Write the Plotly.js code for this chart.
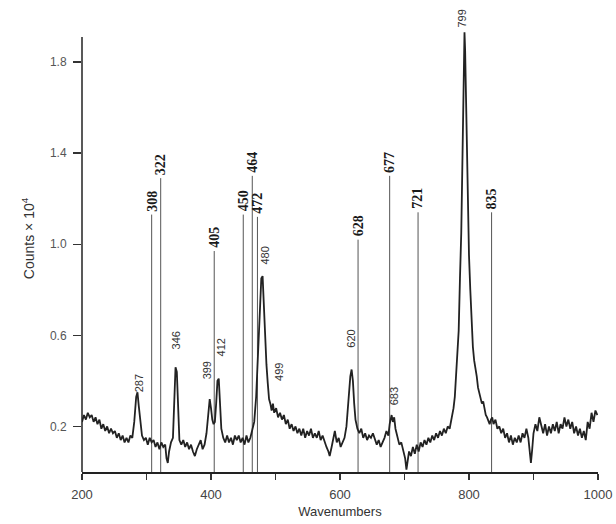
<!DOCTYPE html>
<html>
<head>
<meta charset="utf-8">
<script src="https://cdn.plot.ly/plotly-3.0.1.min.js"></script>
<style>html,body{margin:0;padding:0;background:#fff;}#chart{width:616px;height:524px;}</style>
</head>
<body>
<div id="chart"></div>
<script>
// Spectrum (wavenumber, counts x 10^4)
const wavenumber = [200,203,206,209,212,215,218,221,224,227,230,233,236,239,242,245,248,251,254,257,260,263,266,269,272,275,278,281,284,286,288,290,293,296,299,302,305,308,311,314,317,320,323,326,329,331,333,335,338,341,343,345,347,349,351,354,357,360,363,366,369,372,375,378,381,384,387,390,393,396,398,400,402,404,406,408,410,412,414,416,419,422,425,428,431,434,437,440,443,446,449,452,455,458,461,464,467,470,472,474,476,478,480,482,484,486,488,490,492,494,496,498,501,504,507,510,513,516,519,522,525,528,531,534,537,540,543,546,549,552,555,558,561,564,567,570,573,576,579,582,584,587,590,592,595,598,601,604,607,610,613,616,618,620,622,624,627,630,633,636,639,642,645,648,651,654,657,660,663,666,669,672,675,677,680,682,684,686,689,692,695,698,701,703,705,707,710,713,716,719,722,725,728,731,734,737,740,743,746,749,752,755,758,761,764,767,770,773,776,778,780,782,784,786,788,790,792,793,794,796,798,800,802,804,806,808,810,812,814,816,818,820,822,824,826,828,830,832,834,836,838,841,844,847,850,853,856,859,862,865,868,871,874,877,880,883,886,889,892,894,896,898,900,903,906,909,912,915,918,921,924,927,930,933,936,939,942,945,948,951,954,957,960,963,966,969,972,975,978,981,984,987,990,993,996,999];
const counts = [0.22,0.25,0.23,0.26,0.24,0.25,0.22,0.24,0.21,0.23,0.19,0.21,0.18,0.20,0.17,0.19,0.17,0.18,0.15,0.17,0.14,0.16,0.13,0.15,0.13,0.16,0.15,0.22,0.33,0.35,0.29,0.23,0.16,0.14,0.15,0.12,0.15,0.13,0.14,0.11,0.13,0.10,0.13,0.11,0.12,0.06,0.04,0.09,0.13,0.15,0.30,0.46,0.44,0.25,0.14,0.12,0.14,0.11,0.13,0.10,0.12,0.09,0.07,0.10,0.12,0.14,0.10,0.12,0.17,0.27,0.32,0.28,0.23,0.21,0.22,0.30,0.40,0.41,0.30,0.19,0.15,0.13,0.16,0.13,0.15,0.12,0.16,0.14,0.16,0.13,0.15,0.12,0.16,0.13,0.15,0.18,0.22,0.33,0.45,0.62,0.75,0.85,0.86,0.72,0.58,0.47,0.39,0.32,0.30,0.27,0.30,0.26,0.28,0.24,0.26,0.23,0.25,0.21,0.23,0.19,0.21,0.18,0.20,0.17,0.19,0.16,0.19,0.15,0.18,0.16,0.19,0.15,0.17,0.15,0.18,0.14,0.16,0.13,0.11,0.09,0.07,0.11,0.15,0.18,0.13,0.15,0.11,0.13,0.15,0.20,0.32,0.42,0.45,0.40,0.30,0.23,0.19,0.17,0.19,0.15,0.17,0.14,0.16,0.15,0.17,0.14,0.12,0.14,0.11,0.13,0.15,0.18,0.16,0.21,0.25,0.22,0.24,0.19,0.16,0.12,0.13,0.09,0.06,0.01,0.05,0.09,0.07,0.11,0.08,0.12,0.09,0.13,0.11,0.14,0.12,0.15,0.13,0.16,0.14,0.17,0.15,0.18,0.16,0.19,0.17,0.20,0.19,0.23,0.28,0.33,0.42,0.52,0.62,0.85,1.05,1.40,1.80,1.93,1.85,1.50,1.18,0.95,0.80,0.66,0.55,0.49,0.46,0.42,0.37,0.35,0.33,0.30,0.31,0.27,0.25,0.24,0.22,0.21,0.23,0.24,0.21,0.23,0.19,0.20,0.17,0.19,0.15,0.17,0.13,0.16,0.12,0.15,0.13,0.16,0.13,0.17,0.15,0.19,0.15,0.08,0.04,0.10,0.17,0.21,0.18,0.24,0.20,0.17,0.21,0.16,0.20,0.17,0.21,0.18,0.22,0.17,0.21,0.19,0.24,0.20,0.23,0.19,0.22,0.17,0.20,0.16,0.19,0.15,0.18,0.14,0.22,0.19,0.26,0.22,0.27,0.25];

// Assigned bands marked with a vertical line
const lineBands = [308,322,405,450,464,472,628,677,721,835];
const lineTops  = [1.13,1.29,0.97,1.13,1.30,1.12,1.02,1.30,1.14,1.14];

// Peak labels without a line
const peakLabels = ['287','346','399','412','480','499','620','683','799'];
const peakLabelX = [288,346,393,416,483,505,618,684,790];
const peakLabelY = [0.34,0.53,0.40,0.50,0.90,0.39,0.535,0.285,1.94];

// Axis ticks
const xTicks = [200,400,600,800,1000];
const xTickText = ['200','400','600','800','1000'];
const xMinorStep = 100;
const yTicks = [0.2,0.6,1.0,1.4,1.8];
const yTickText = ['0.2','0.6','1.0','1.4','1.8'];
const yAxisTop = 1.91;

const lx = [], ly = [];
lineBands.forEach((b, i) => { lx.push(b, b, null); ly.push(0, lineTops[i], null); });

const traces = [
  {x: lx, y: ly, type: 'scatter', mode: 'lines', line: {color: '#555', width: 1}, hoverinfo: 'skip', showlegend: false},
  {x: wavenumber, y: counts, type: 'scatter', mode: 'lines', line: {color: '#222', width: 1.8}, showlegend: false}
];

const annotations = [];
lineBands.forEach((b, i) => annotations.push({
  x: b, y: lineTops[i], xref: 'x', yref: 'y', text: String(b), showarrow: false,
  textangle: -90, xanchor: 'center', yanchor: 'bottom', yshift: 1,
  font: {family: 'Liberation Serif, serif', size: 14, color: '#1a1a1a', weight: 'bold'}
}));
peakLabels.forEach((t, i) => annotations.push({
  x: peakLabelX[i], y: peakLabelY[i], xref: 'x', yref: 'y', text: t, showarrow: false,
  textangle: -90, xanchor: 'center', yanchor: 'bottom',
  font: {family: 'Liberation Sans, Arial, sans-serif', size: 11, color: '#333'}
}));

const layout = {
  width: 616, height: 524,
  margin: {l: 82, r: 18, t: 5, b: 52},
  paper_bgcolor: '#fff', plot_bgcolor: '#fff',
  font: {family: 'Liberation Sans, Arial, sans-serif', color: '#444', size: 13},
  xaxis: {
    range: [200, 1000], tickvals: xTicks, ticktext: xTickText,
    ticks: 'outside', ticklen: 6, tickwidth: 1.2, tickcolor: '#333',
    minor: {dtick: xMinorStep, tick0: 200, ticks: 'outside', ticklen: 6, tickwidth: 1.2, tickcolor: '#333', showgrid: false},
    showline: true, linecolor: '#222', linewidth: 1.5, showgrid: false, zeroline: false,
    ticklabelstandoff: 4,
    tickfont: {size: 13, color: '#444'},
    title: {text: 'Wavenumbers', font: {size: 13, color: '#333'}, standoff: 6}
  },
  yaxis: {
    range: [0, 2.05], tickvals: yTicks, ticktext: yTickText,
    ticks: 'outside', ticklen: 8, tickwidth: 1.2, tickcolor: '#333',
    showline: false, showgrid: false, zeroline: false,
    ticklabelstandoff: 4,
    tickfont: {size: 12, color: '#555'},
    title: {text: 'Counts \u00d7 10<sup>4</sup>', font: {size: 14, color: '#333'}, standoff: 12}
  },
  shapes: [{type: 'line', xref: 'paper', yref: 'y', x0: 0, x1: 0, y0: 0, y1: yAxisTop,
            line: {color: '#222', width: 1.5}}],
  annotations: annotations
};

Plotly.newPlot('chart', traces, layout, {displayModeBar: false, staticPlot: true});
</script>
</body>
</html>
